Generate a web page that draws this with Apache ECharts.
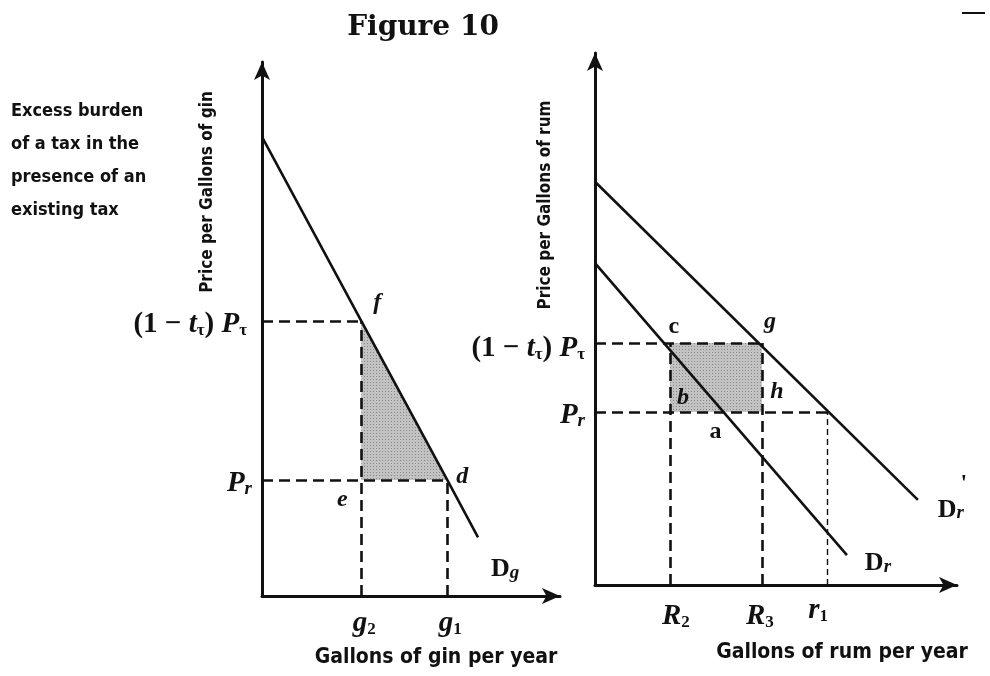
<!DOCTYPE html>
<html>
<head>
<meta charset="utf-8">
<script src="https://cdn.jsdelivr.net/npm/echarts@6/dist/echarts.min.js"></script>
<style>html,body{margin:0;padding:0;background:#fff}</style>
</head>
<body>
<div id="main" style="width:990px;height:676px;"></div>
<script type="text/javascript">
// gin market (left panel), axes run 0..10
var ginDemandX = [0, 3.33, 6.22, 7.25];
var ginDemandY = [8.6, 5.15, 2.17, 1.1];
var ginPt = 5.15, ginPr = 2.17;
var ginG2 = 3.33, ginG1 = 6.22;

// rum market (right panel), axes run 0..10
var rumDemandX = [0, 6.96];
var rumDemandY = [6.05, 0.56];
var rumDemand2X = [0, 8.92];
var rumDemand2Y = [7.58, 1.6];
var rumPt = 4.55, rumPr = 3.25;
var rumR2 = 2.07, rumR3 = 4.61, rumR1 = 6.41;
var rumA = 3.55;

function pairs(xs, ys) {
    return xs.map(function (x, i) { return [x, ys[i]]; });
}

var serif = '"Liberation Serif", "Times New Roman", serif';
var narrow = '"DejaVu Sans Condensed", "DejaVu Sans", sans-serif';
var ink = '#111';

var rich = {
    r: {fontFamily: serif, fontSize: 29, fontWeight: 'bold', color: ink, verticalAlign: 'bottom', lineHeight: 36},
    i: {fontFamily: serif, fontSize: 29, fontStyle: 'italic', fontWeight: 'bold', color: ink, verticalAlign: 'bottom', lineHeight: 36},
    b: {fontFamily: serif, fontSize: 26, fontWeight: 'bold', color: ink, verticalAlign: 'bottom', lineHeight: 34},
    s: {fontFamily: serif, fontSize: 17, fontWeight: 'bold', color: ink, verticalAlign: 'bottom', lineHeight: 14},
    si: {fontFamily: serif, fontSize: 19, fontStyle: 'italic', fontWeight: 'bold', color: ink, verticalAlign: 'bottom', lineHeight: 14},
    l: {fontFamily: serif, fontSize: 24, fontStyle: 'italic', fontWeight: 'bold', color: ink},
    u: {fontFamily: serif, fontSize: 24, fontWeight: 'bold', color: ink}
};

// text, anchor point, pixel offset of the label centre, alignment
function lbl(text, pt, off, align) {
    return {
        value: pt,
        label: {formatter: text, offset: off, align: align || 'center'}
    };
}

var ginLabels = [
    lbl('{r|(1 − }{i|t}{s|τ}{r|) }{i|P}{s|τ}', [0, ginPt], [-15, 0], 'right'),
    lbl('{i|P}{si|r}', [0, ginPr], [-10, 0], 'right'),
    lbl('{l|f}', [ginG2, ginPt], [16, -18]),
    lbl('{l|d}', [ginG1, ginPr], [15, -3]),
    lbl('{l|e}', [ginG2, ginPr], [-19, 20]),
    lbl('{b|D}{si|g}', [ginDemandX[3], ginDemandY[3]], [27, 28]),
    lbl('{i|g}{s|2}', [ginG2, 0], [3, 24]),
    lbl('{i|g}{s|1}', [ginG1, 0], [3, 24])
];

var rumLabels = [
    lbl('{r|(1 − }{i|t}{s|τ}{r|) }{i|P}{s|τ}', [0, rumPt], [-10, 2], 'right'),
    lbl('{i|P}{si|r}', [0, rumPr], [-10, 0], 'right'),
    lbl('{u|c}', [rumR2, rumPt], [4, -16]),
    lbl('{l|g}', [rumR3, rumPt], [8, -21]),
    lbl('{l|b}', [rumR2, rumPr], [13, -14]),
    lbl('{l|h}', [rumR3, rumPr], [15, -20]),
    lbl('{u|a}', [rumA, rumPr], [-8, 20]),
    lbl('{b|D}{si|r}', [rumDemand2X[1], rumDemand2Y[1]], [33, 6]),
    lbl('{u|\'}', [rumDemand2X[1], rumDemand2Y[1]], [46, -16]),
    lbl('{b|D}{si|r}', [rumDemandX[1], rumDemandY[1]], [31, 4]),
    lbl('{i|R}{s|2}', [rumR2, 0], [6, 28]),
    lbl('{i|R}{s|3}', [rumR3, 0], [-2, 28]),
    lbl('{i|r}{s|1}', [rumR1, 0], [-9, 22])
];

var dash = {type: [11, 6], width: 2.6, color: ink};
var thinDash = {type: [6, 4], width: 1.4, color: ink};

function seg(a, b, style) {
    return [{coord: a, lineStyle: style || dash}, {coord: b}];
}

var ginShade = [[ginG2, ginPt], [ginG2, ginPr], [ginG1, ginPr]];
var rumShade = [[rumR2, rumPt], [rumR3, rumPt], [rumR3, rumPr], [rumR2, rumPr]];

// stippled grey fill like the printed screen
var dots = document.createElement('canvas');
dots.width = 3; dots.height = 3;
var dctx = dots.getContext('2d');
dctx.fillStyle = '#c2c2c2';
dctx.fillRect(0, 0, 3, 3);
dctx.fillStyle = '#888';
dctx.fillRect(1, 1, 1, 1);
var stipple = {image: dots, repeat: 'repeat'};

function axis(grid) {
    return {
        gridIndex: grid, type: 'value', min: 0, max: 10,
        axisLine: {show: true, onZero: false, symbol: ['none', 'arrow'], symbolSize: [12, 18],
                   lineStyle: {color: ink, width: 3}},
        axisTick: {show: false}, axisLabel: {show: false}, splitLine: {show: false}
    };
}

function labelSeries(grid, data) {
    return {
        type: 'scatter', xAxisIndex: grid, yAxisIndex: grid,
        symbol: 'circle', symbolSize: 1, itemStyle: {color: 'rgba(0,0,0,0)', opacity: 1},
        label: {show: true, position: [0.5, 0.5], verticalAlign: 'middle', color: ink,
                textBorderWidth: 0, rich: rich},
        data: data, silent: true, z: 5
    };
}

function shadeSeries(grid, poly) {
    return {
        type: 'custom', xAxisIndex: grid, yAxisIndex: grid, silent: true, z: 1,
        data: [poly[0]],
        renderItem: function (params, api) {
            return {
                type: 'polygon',
                shape: {points: poly.map(function (p) { return api.coord(p); })},
                style: {fill: stipple}
            };
        }
    };
}

function demand(grid, pts, marks) {
    var s = {
        type: 'line', xAxisIndex: grid, yAxisIndex: grid,
        data: pts, symbol: 'none', silent: true, z: 3,
        lineStyle: {color: ink, width: 2.6}
    };
    if (marks) {
        s.markLine = {silent: true, symbol: ['none', 'none'], label: {show: false}, data: marks};
    }
    return s;
}

var option = {
    animation: false,
    backgroundColor: '#fff',
    grid: [
        {left: 262, top: 62, width: 298, height: 534},
        {left: 595, top: 53, width: 362, height: 532}
    ],
    xAxis: [axis(0), axis(1)],
    yAxis: [axis(0), axis(1)],
    series: [
        shadeSeries(0, ginShade),
        shadeSeries(1, rumShade),
        demand(0, pairs(ginDemandX, ginDemandY), [
            seg([0, ginPt], [ginG2, ginPt]),
            seg([ginG2, 0], [ginG2, ginPt]),
            seg([0, ginPr], [ginG1, ginPr]),
            seg([ginG1, 0], [ginG1, ginPr])
        ]),
        demand(1, pairs(rumDemandX, rumDemandY), [
            seg([0, rumPt], [rumR3, rumPt]),
            seg([0, rumPr], [rumR1, rumPr]),
            seg([rumR2, 0], [rumR2, rumPt]),
            seg([rumR3, 0], [rumR3, rumPt]),
            seg([rumR1, 0], [rumR1, rumPr], thinDash)
        ]),
        demand(1, pairs(rumDemand2X, rumDemand2Y)),
        labelSeries(0, ginLabels),
        labelSeries(1, rumLabels)
    ],
    graphic: [
        {type: 'text', x: 423, y: 28, style: {text: 'Figure 10', font: 'bold 28px "DejaVu Serif", serif',
            fill: ink, textAlign: 'center', textVerticalAlign: 'middle'}},
        {type: 'text', x: 11, y: 95, style: {text: 'Excess burden\nof a tax in the\npresence of an\nexisting tax',
            font: 'bold 18px ' + narrow, lineHeight: 33, fill: ink, textAlign: 'left', textVerticalAlign: 'top'}},
        {type: 'text', x: 208, y: 192, rotation: Math.PI / 2, style: {text: 'Price per Gallons of gin',
            font: 'bold 17px ' + narrow, fill: ink, textAlign: 'center', textVerticalAlign: 'middle'}},
        {type: 'text', x: 546, y: 205, rotation: Math.PI / 2, style: {text: 'Price per Gallons of rum',
            font: 'bold 17px ' + narrow, fill: ink, textAlign: 'center', textVerticalAlign: 'middle'}},
        {type: 'text', x: 436, y: 658, style: {text: 'Gallons of gin per year',
            font: 'bold 21px ' + narrow, fill: ink, textAlign: 'center', textVerticalAlign: 'middle'}},
        {type: 'text', x: 842, y: 653, style: {text: 'Gallons of rum per year',
            font: 'bold 21px ' + narrow, fill: ink, textAlign: 'center', textVerticalAlign: 'middle'}},
        {type: 'line', shape: {x1: 962, y1: 13, x2: 985, y2: 13}, style: {stroke: ink, lineWidth: 2}}
    ]
};

var myChart = echarts.init(document.getElementById('main'));
myChart.setOption(option);
</script>
</body>
</html>
